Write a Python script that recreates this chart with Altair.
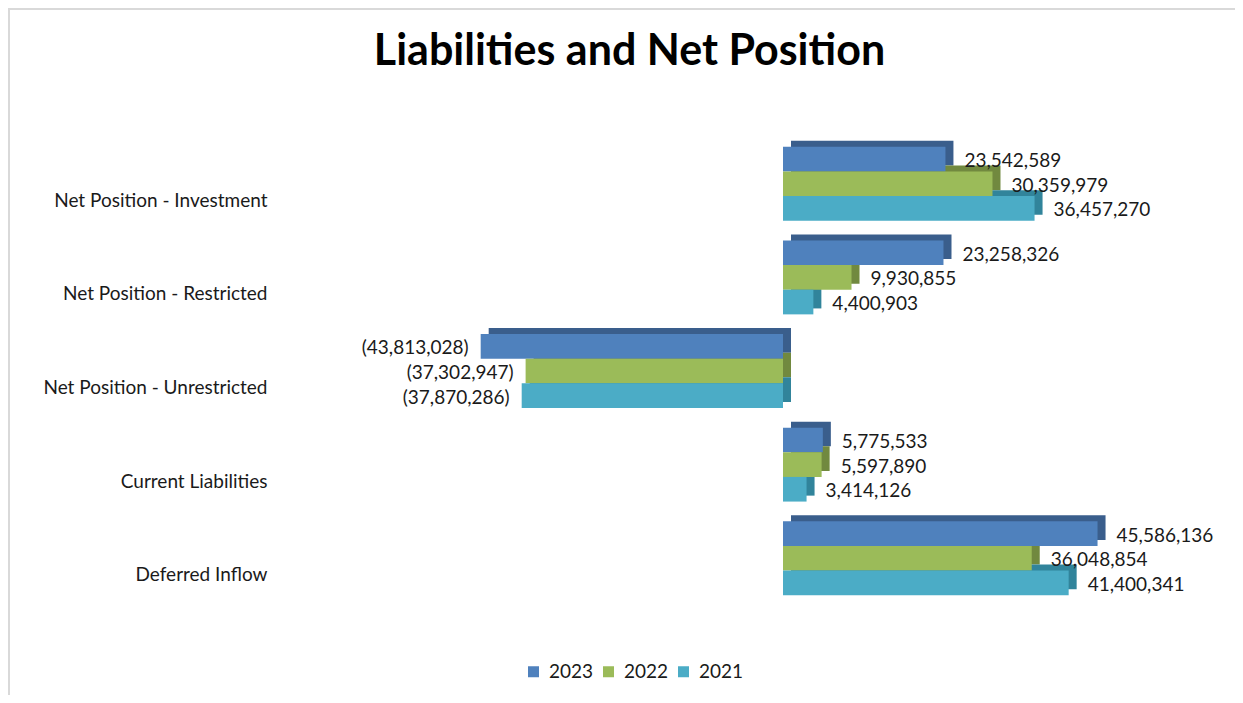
import altair as alt
import pandas as pd

categories = [
    "Net Position - Investment",
    "Net Position - Restricted",
    "Net Position - Unrestricted",
    "Current Liabilities",
    "Deferred Inflow",
]
years = ["2023", "2022", "2021"]
values_2023 = [23542589, 23258326, -43813028, 5775533, 45586136]
values_2022 = [30359979, 9930855, -37302947, 5597890, 36048854]
values_2021 = [36457270, 4400903, -37870286, 3414126, 41400341]
front_colors = ["#4F81BD", "#9BBB59", "#4BACC6"]
depth_colors = ["#3A5E8C", "#71893F", "#31849B"]

rows = []
for yr, vals, dc in zip(years, [values_2023, values_2022, values_2021], depth_colors):
    for c, v in zip(categories, vals):
        rows.append({
            "category": c,
            "year": yr,
            "value": v,
            "depth": dc,
            "label": f"{v:,}" if v >= 0 else f"({-v:,})",
        })
df = pd.DataFrame(rows)

FONT = "Lato"
TXT = "#1a1a1a"
FS = 19

y_enc = alt.Y(
    "category:N", sort=categories,
    scale=alt.Scale(paddingInner=0.21, paddingOuter=0.105),
    axis=alt.Axis(title=None, ticks=False, domain=False, grid=False,
                  labelFont=FONT, labelFontSize=FS, labelColor=TXT,
                  labelPadding=171, labelOffset=17, labelLimit=400),
)
yoff = alt.YOffset("year:N", sort=years, scale=alt.Scale(paddingInner=0, paddingOuter=0))
yoff_depth = alt.YOffset("year:N", sort=years,
                         scale=alt.Scale(paddingInner=0, paddingOuter=0, range=[-6, 68]))
x_enc = alt.X("value:Q", scale=alt.Scale(domain=[-50000000, 50000000], nice=False), axis=None)

base = alt.Chart(df)

border = alt.Chart(pd.DataFrame({"a": [0]})).mark_rect(
    fill="white", fillOpacity=0, stroke="#d9d9d9", strokeWidth=2
).encode(x=alt.value(-429), x2=alt.value(812), y=alt.value(-128), y2=alt.value(700))

depth = base.mark_bar(xOffset=8).encode(
    x=x_enc, y=y_enc, yOffset=yoff_depth,
    color=alt.Color("depth:N", scale=None),
)

front = base.mark_bar().encode(
    x=x_enc, y=y_enc, yOffset=yoff,
    color=alt.Color(
        "year:N", sort=years,
        scale=alt.Scale(domain=years, range=front_colors),
        legend=alt.Legend(title=None, orient="none", legendX=86, legendY=525,
                          direction="horizontal", symbolType="square", symbolSize=121,
                          labelFont=FONT, labelFontSize=FS, labelColor=TXT,
                          columnPadding=5, labelOffset=6, symbolStrokeWidth=0),
    ),
)

pos_labels = base.transform_filter("datum.value >= 0").mark_text(
    align="left", dx=19, dy=2, font=FONT, fontSize=FS, color=TXT
).encode(x=x_enc, y=y_enc, yOffset=yoff, text="label:N")

neg_labels = base.transform_filter("datum.value < 0").mark_text(
    align="right", dx=-12, dy=2, font=FONT, fontSize=FS, color=TXT
).encode(x=x_enc, y=y_enc, yOffset=yoff, text="label:N")

front_group = alt.layer(front, pos_labels, neg_labels)

chart = alt.layer(border, depth, front_group).resolve_scale(
    yOffset="independent"
).properties(
    width=690, height=468,
    title=alt.TitleParams("Liabilities and Net Position", font=FONT, fontSize=43,
                          fontWeight="bold", color="#000000", anchor="middle",
                          frame="bounds", offset=-66),
    autosize=alt.AutoSizeParams(type="none"),
    padding={"left": 430, "top": 129, "right": 107, "bottom": 90},
).configure_view(stroke=None)

chart.save("out.html", embed_options={"renderer": "svg", "actions": False})
